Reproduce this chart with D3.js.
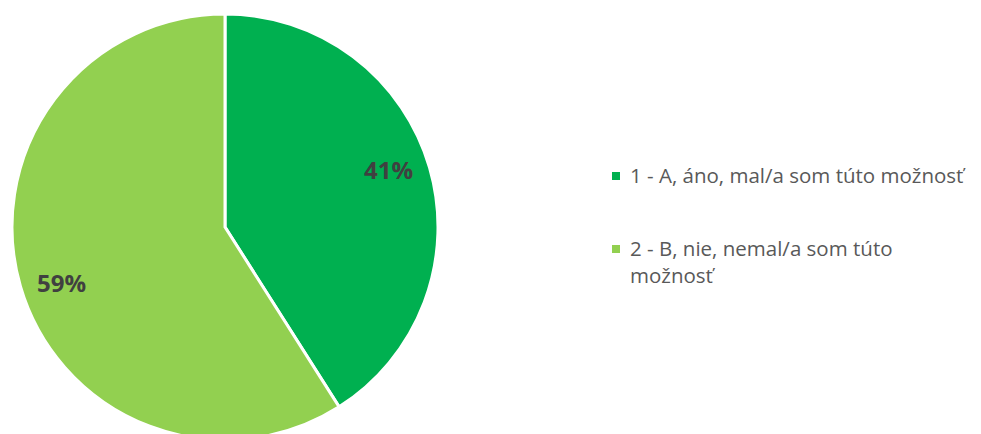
<!DOCTYPE html>
<html>
<head>
<meta charset="utf-8">
<script src="https://cdn.jsdelivr.net/npm/d3@7"></script>
<style>
  html, body { margin: 0; padding: 0; background: #fff; }
  svg { display: block; }
</style>
</head>
<body>
<svg id="chart" width="981" height="434"></svg>
<script>
// Answers and their shares
const categories = ["1 - A, áno, mal/a som túto možnosť", "2 - B, nie, nemal/a som túto možnosť"];
const legendLines = [["1 - A, áno, mal/a som túto možnosť"], ["2 - B, nie, nemal/a som túto", "možnosť"]];
const values = [41, 59];
const colors = ["#00B050", "#92D050"];

const svg = d3.select("#chart");
const cx = 225, cy = 227, radius = 213;

const pie = d3.pie().sort(null).value(d => d)(values);
const arc = d3.arc().innerRadius(0).outerRadius(radius);

const g = svg.append("g").attr("transform", `translate(${cx},${cy})`);

g.selectAll("path.slice")
  .data(pie)
  .join("path")
  .attr("class", "slice")
  .attr("d", arc)
  .attr("fill", (d, i) => colors[i])
  .attr("stroke", "#ffffff")
  .attr("stroke-width", 3)
  .attr("stroke-linejoin", "miter");

// Percentage labels sit inside each slice, a little before its mid-angle
const labelR = 173, labelShift = 0.05;
g.selectAll("text.pct")
  .data(pie)
  .join("text")
  .attr("class", "pct")
  .attr("transform", d => {
    const a = (d.startAngle + d.endAngle) / 2 - labelShift;
    return `translate(${labelR * Math.sin(a)},${-labelR * Math.cos(a)})`;
  })
  .attr("text-anchor", "middle")
  .attr("dy", "0.36em")
  .attr("font-family", "'Open Sans', sans-serif")
  .attr("font-weight", "bold")
  .attr("font-size", 24)
  .attr("fill", "#404040")
  .text(d => d.data + "%");

// Legend
const legend = svg.append("g").attr("transform", "translate(612,0)");
const itemTop = [172, 245];
categories.forEach((c, i) => {
  const item = legend.append("g").attr("transform", `translate(0,${itemTop[i]})`);
  item.append("rect")
    .attr("x", 0).attr("y", 0)
    .attr("width", 8).attr("height", 8)
    .attr("fill", colors[i]);
  const t = item.append("text")
    .attr("font-family", "'Open Sans', sans-serif")
    .attr("font-size", 20.5)
    .attr("fill", "#595959");
  legendLines[i].forEach((line, j) => {
    t.append("tspan").attr("x", 18).attr("y", 11 + j * 27).text(line);
  });
});
</script>
</body>
</html>
